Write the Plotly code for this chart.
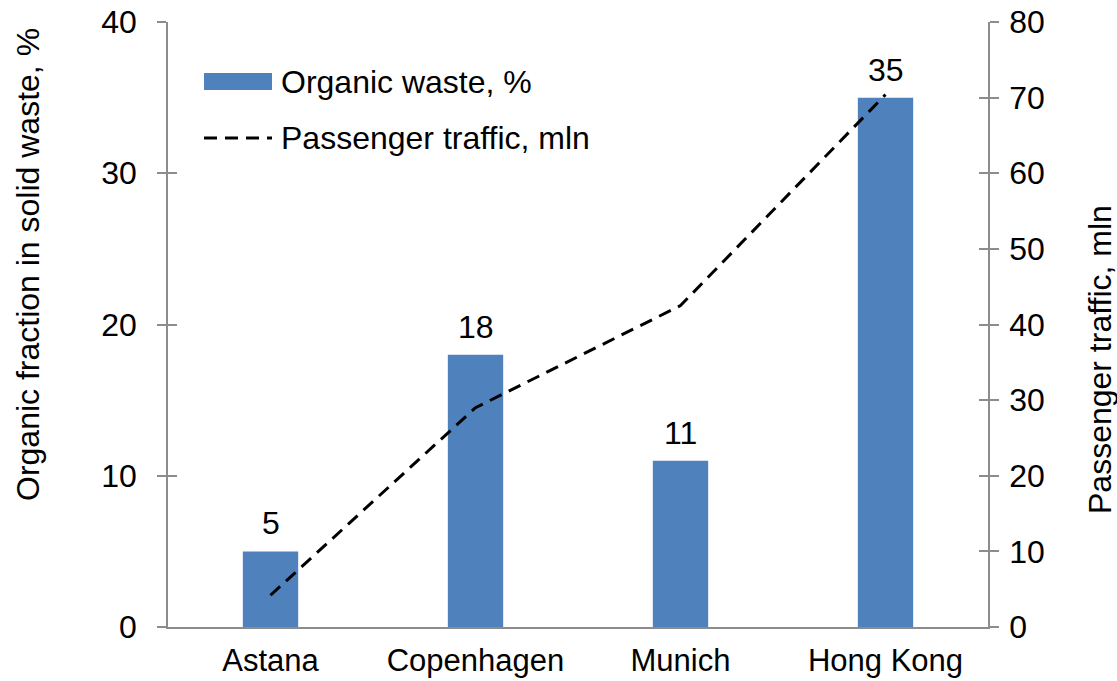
import plotly.graph_objects as go

cities = ["Astana", "Copenhagen", "Munich", "Hong Kong"]
organic_waste = [5, 18, 11, 35]
passenger_traffic = [4.2, 29.0, 42.5, 70.4]
left_ticks = [0, 10, 20, 30, 40]
right_ticks = [0, 10, 20, 30, 40, 50, 60, 70, 80]

FONT = "Liberation Sans, Arial, sans-serif"
FS = 32
AX = "#8c8c8c"
BAR = "#4F81BD"

fig = go.Figure()
fig.add_trace(go.Bar(
    x=cities, y=organic_waste, name="Organic waste, %",
    marker=dict(color=BAR, line=dict(width=0)),
    showlegend=False, yaxis="y"))
fig.add_trace(go.Scatter(
    x=cities, y=passenger_traffic, name="Passenger traffic, mln",
    mode="lines", line=dict(color="black", width=3, dash="13px,8px"),
    showlegend=False, yaxis="y2"))

for c, v in zip(cities, organic_waste):
    fig.add_annotation(x=c, y=v, xref="x", yref="y", text=str(v),
                       showarrow=False, yanchor="middle", yshift=28,
                       font=dict(size=FS, color="black"))

W, H = 1117, 681
L, R, T, B = 168, 129, 22, 54
pw, ph = W - L - R, H - T - B

def px(x):
    return (x - L) / pw

def py(y):
    return (H - B - y) / ph

fig.update_layout(
    width=W, height=H,
    margin=dict(l=L, r=R, t=T, b=B, autoexpand=False),
    paper_bgcolor="white", plot_bgcolor="white",
    font=dict(family=FONT, size=FS, color="black"),
    bargap=0.73,
    xaxis=dict(showgrid=False, showline=True, linecolor=AX, linewidth=1.5,
               ticks="", ticklabelstandoff=5, tickfont=dict(size=31),
               zeroline=False),
    yaxis=dict(range=[0, 40], tickvals=left_ticks, showgrid=False,
               showline=True, linecolor=AX, linewidth=1.5,
               ticks="outside", ticklen=9, tickcolor=AX, tickwidth=1.5,
               ticklabelstandoff=14, zeroline=False),
    yaxis2=dict(range=[0, 80], tickvals=right_ticks, overlaying="y",
                side="right", showgrid=False, showline=True, linecolor=AX,
                linewidth=1.5, ticks="outside", ticklen=9, tickcolor=AX,
                tickwidth=1.5, ticklabelstandoff=4, zeroline=False),
    yaxis3=dict(range=[0, 40], tickvals=left_ticks, overlaying="y",
                side="left", showgrid=False, showline=False,
                ticks="inside", ticklen=9, tickcolor=AX, tickwidth=1.5,
                showticklabels=False, zeroline=False),
    yaxis4=dict(range=[0, 80], tickvals=right_ticks, overlaying="y",
                side="right", showgrid=False, showline=False,
                ticks="inside", ticklen=9, tickcolor=AX, tickwidth=1.5,
                showticklabels=False, zeroline=False),
    showlegend=False,
)
fig.add_trace(go.Scatter(x=cities, y=[None]*4, yaxis="y3", showlegend=False, hoverinfo="skip"))
fig.add_trace(go.Scatter(x=cities, y=[None]*4, yaxis="y4", showlegend=False, hoverinfo="skip"))

# axis titles
fig.add_annotation(xref="paper", yref="paper", x=px(28), y=py(265),
                   text="Organic fraction in solid waste, %", textangle=-90,
                   showarrow=False, xanchor="center", yanchor="middle",
                   font=dict(size=FS))
fig.add_annotation(xref="paper", yref="paper", x=px(1100), y=py(360),
                   text="Passenger traffic, mln", textangle=-90,
                   showarrow=False, xanchor="center", yanchor="middle",
                   font=dict(size=FS))

# custom legend
fig.add_shape(type="rect", xref="paper", yref="paper",
              x0=px(204), x1=px(272), y0=py(90), y1=py(73),
              fillcolor=BAR, line=dict(width=0))
fig.add_shape(type="line", xref="paper", yref="paper",
              x0=px(204), x1=px(272), y0=py(138), y1=py(138),
              line=dict(color="black", width=3, dash="13px,8px"))
fig.add_annotation(xref="paper", yref="paper", x=px(279), y=py(82),
                   text="Organic waste, %", showarrow=False,
                   xanchor="left", yanchor="middle", font=dict(size=FS))
fig.add_annotation(xref="paper", yref="paper", x=px(279), y=py(138),
                   text="Passenger traffic, mln", showarrow=False,
                   xanchor="left", yanchor="middle", font=dict(size=FS))

fig.write_html("out.html")
